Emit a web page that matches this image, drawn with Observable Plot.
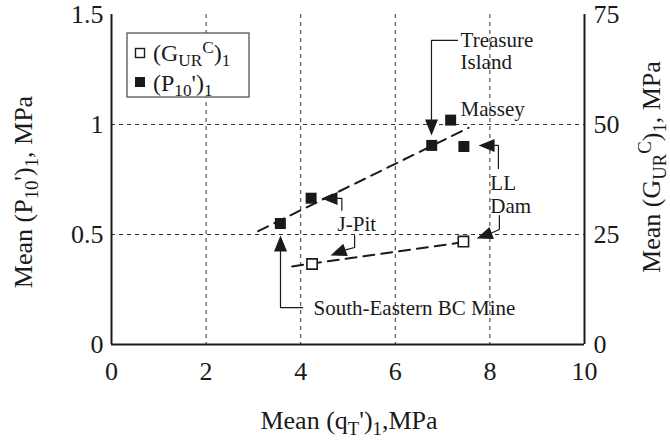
<!DOCTYPE html>
<html><head><meta charset="utf-8">
<script src="https://cdn.jsdelivr.net/npm/d3@7"></script>
<script src="https://cdn.jsdelivr.net/npm/@observablehq/plot@0.6"></script>
<style>body{margin:0;background:#fff} svg text, svg tspan{font-family:'Liberation Serif','Times New Roman',Times,serif !important;}</style>
</head><body><div id="chart"></div>
<script>
// ---- data ----
const p10Sites = ["South-Eastern BC Mine", "J-Pit", "Treasure Island", "Massey", "LL Dam"];
const p10QT = [3.57, 4.22, 6.77, 7.17, 7.45];
const p10Val = [0.55, 0.665, 0.905, 1.02, 0.90];
const gurSites = ["J-Pit", "LL Dam"];
const gurQT = [4.24, 7.44];
const gurVal = [18.3, 23.4];           // MPa, right axis
const p10TrendX = [3.1, 7.55];
const p10TrendY = [0.515, 0.985];
const gurTrendX = [3.82, 7.34];
const gurTrendY = [17.75, 23.1];        // MPa, right axis
const xTicks = [0, 2, 4, 6, 8, 10];
const yTicks = [0, 0.5, 1, 1.5];
const y2Ticks = [0, 25, 50, 75];
const G_PER_P = 50;                      // 75 MPa on the right = 1.5 MPa on the left

// callouts (data coordinates)
const calloutText = ["Treasure\nIsland", "Massey", "LL\nDam", "J-Pit", "South-Eastern BC Mine"];
const calloutX = [7.38, 7.38, 8.01, 4.78, 4.27];
const calloutY = [1.335, 1.073, 0.682, 0.55, 0.168];
const headX = [6.765, 7.76, 7.72, 4.44, 4.63, 3.573];
const headY = [0.95, 0.905, 0.482, 0.664, 0.405, 0.495];
const headRot = [180, 270, 250, 270, 250, 0];
const leaders = [
  [[6.765, 1.023], [6.765, 1.382], [7.315, 1.382]],
  [[8.10, 0.905], [8.18, 0.905], [8.18, 0.80]],
  [[8.03, 0.507], [8.20, 0.523], [8.20, 0.586]],
  [[4.78, 0.664], [4.87, 0.664], [4.87, 0.61]],
  [[4.95, 0.43], [5.14, 0.441], [5.14, 0.495]],
  [[3.573, 0.423], [3.573, 0.168], [4.04, 0.168]]
];

// ---- tables ----
const p10 = p10Sites.map((s, i) => ({site: s, x: p10QT[i], y: p10Val[i]}));
const gur = gurSites.map((s, i) => ({site: s, x: gurQT[i], y: gurVal[i] / G_PER_P}));
const p10Trend = p10TrendX.map((x, i) => ({x, y: p10TrendY[i]}));
const gurTrend = gurTrendX.map((x, i) => ({x, y: gurTrendY[i] / G_PER_P}));
const labels = calloutText.map((t, i) => ({t, x: calloutX[i], y: calloutY[i]}));
const heads = headX.map((x, i) => ({x, y: headY[i], r: headRot[i]}));
const leaderPts = leaders.flatMap((pts, k) => pts.map(([x, y]) => ({k, x, y})));

const headShape = {
  draw(context, l) {
    context.moveTo(0, -l);
    context.lineTo(-6.5, 0);
    context.lineTo(6.5, 0);
    context.closePath();
  }
};

const FONT = "'Liberation Serif', 'Times New Roman', Times, serif";
const ink = "#1a1a1a";
const TICK = 26, TITLE = 26, ANN = 21, LEG = 24;
const svg = Plot.plot({
  width: 670, height: 440,
  marginLeft: 111, marginRight: 86, marginTop: 14, marginBottom: 96,
  style: {fontFamily: FONT, fontSize: TICK + "px", color: ink, background: "#fff", overflow: "visible"},
  x: {domain: [0, 10]},
  y: {domain: [0, 1.5]},
  marks: [
    Plot.ruleY([0.5, 1], {stroke: ink, strokeWidth: 0.9, strokeDasharray: "4,4"}),
    Plot.ruleX([2, 4, 6, 8], {stroke: ink, strokeWidth: 0.9, strokeDasharray: "4,4"}),
    Plot.ruleX([0, 10], {stroke: ink, strokeWidth: 2}),
    Plot.ruleY([0], {stroke: ink, strokeWidth: 2}),
    Plot.axisX({ticks: xTicks, tickSize: 0, tickPadding: 17, label: null, fontSize: TICK}),
    Plot.axisY({ticks: yTicks, tickSize: 0, tickPadding: 8, label: null, fontSize: TICK, tickFormat: d => String(d)}),
    Plot.axisY({anchor: "right", ticks: y2Ticks.map(v => v / G_PER_P), tickSize: 0, tickPadding: 9, label: null, fontSize: TICK,
      tickFormat: d => String(Math.round(d * G_PER_P))}),
    Plot.line(p10Trend, {x: "x", y: "y", stroke: ink, strokeWidth: 2, strokeDasharray: "11,7"}),
    Plot.line(gurTrend, {x: "x", y: "y", stroke: ink, strokeWidth: 2, strokeDasharray: "11,7"}),
    Plot.line(leaderPts, {x: "x", y: "y", z: "k", stroke: ink, strokeWidth: 1.2}),
    Plot.vector(heads, {x: "x", y: "y", rotate: "r", length: 16, anchor: "end", shape: headShape, fill: ink, stroke: "none"}),
    Plot.dot(gur, {x: "x", y: "y", symbol: "square", r: 5.8, fill: "#fff", stroke: ink, strokeWidth: 1.6}),
    Plot.dot(p10, {x: "x", y: "y", symbol: "square", r: 6.2, fill: ink, stroke: "none"}),
    Plot.text(labels, {x: "x", y: "y", text: "t", textAnchor: "start", lineAnchor: "middle", lineHeight: 1.05, fontSize: ANN, fill: ink, fontFamily: FONT})
  ]
});

const s = d3.select(svg).attr("font-family", FONT);
// axis titles with sub/superscripts
function rich(parent, parts, size, anchor) {
  const t = parent.append("text").attr("font-size", size).attr("fill", ink)
    .attr("font-family", FONT).attr("text-anchor", anchor);
  for (const [txt, kind] of parts) {
    const sp = t.append("tspan").text(txt);
    if (kind === "sub") sp.attr("baseline-shift", "-30%").attr("font-size", size * 0.72);
    if (kind === "sup") sp.attr("baseline-shift", "45%").attr("font-size", size * 0.72);
  }
  return t;
}
rich(s, [["Mean (q"], ["T", "sub"], ["')"], ["1", "sub"], [",MPa"]], TITLE, "middle")
  .attr("x", 349).attr("y", 429);
rich(s, [["Mean (P"], ["10", "sub"], ["')"], ["1", "sub"], [", MPa"]], TITLE, "middle")
  .attr("transform", "translate(32,192) rotate(-90)");
rich(s, [["Mean (G"], ["UR", "sub"], ["C", "sup"], [")"], ["1", "sub"], [", MPa"]], TITLE, "middle")
  .attr("transform", "translate(660,167) rotate(-90)");

// legend
const lg = s.append("g");
lg.append("rect").attr("x", 127).attr("y", 33).attr("width", 122).attr("height", 64)
  .attr("fill", "#fff").attr("stroke", "#555").attr("stroke-width", 1.3);
lg.append("rect").attr("x", 135.5).attr("y", 48.5).attr("width", 9).attr("height", 9)
  .attr("fill", "#fff").attr("stroke", ink).attr("stroke-width", 1.4);
lg.append("rect").attr("x", 135).attr("y", 77).attr("width", 10).attr("height", 10).attr("fill", ink);
rich(lg, [["(G"], ["UR", "sub"], ["C", "sup"], [")"], ["1", "sub"]], LEG, "start").attr("x", 153).attr("y", 61);
rich(lg, [["(P"], ["10", "sub"], ["')"], ["1", "sub"]], LEG, "start").attr("x", 153).attr("y", 91);

s.selectAll("text, tspan").style("font-family", FONT);
document.getElementById("chart").append(svg);
</script>
</body></html>
